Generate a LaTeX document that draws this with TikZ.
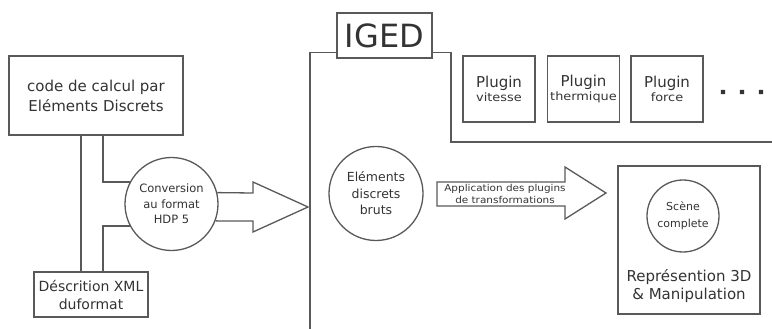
\documentclass[tikz,border=0pt]{standalone}
\usepackage{fontspec}
\setmainfont{DejaVu Sans}
\usepackage{xcolor}
\colorlet{mygray}{black!65}
\colorlet{mytext}{black!80}
\usepackage{tikz}
\usetikzlibrary{calc}

\begin{document}
\begin{tikzpicture}[x=1pt,y=-1pt,line width=1.3pt,draw=mygray,
    every node/.style={text=mytext,align=center,inner sep=0pt},
    boite/.style={draw=mygray,rectangle},
    bulle/.style={draw=mygray,circle}]
  \useasboundingbox (0,0) rectangle (772,329);
  % entree : code et description
  \node[boite,minimum width=174pt,minimum height=79pt,font=\fontsize{15}{20}\selectfont] (code) at (96,95.5) {code de calcul par\\Eléments Discrets};
  \node[boite,minimum width=114pt,minimum height=45pt,font=\fontsize{14}{18}\selectfont] (xml) at (91,294.5) {Déscrition XML\\duformat};
  \node[bulle,minimum size=93pt,font=\fontsize{11.5}{15.5}\selectfont] (conv) at (171.5,204) {Conversion\\au format\\HDP 5};
  \draw (code.south -| 81,0) -- (xml.north -| 81,0);
  \draw ([xshift=7pt]code.south) |- (conv.152);
  \draw ([xshift=12pt]xml.north) |- (conv.208);
  \coordinate (mur) at (308,207);
  \draw[line join=miter] (conv.14) -- (253,193) -- (253,182) -- (mur) -- (253,232) -- (253,221) -- (conv.-21);
  % IGED
  \node[boite,minimum width=95pt,minimum height=45pt,font=\fontsize{32}{36}\selectfont] (iged) at (384.5,35.5) {IGED};
  \coordinate (coin) at (451,142);
  \draw (310,329) |- ([yshift=6pt]iged.south west);
  \draw ([yshift=6pt]iged.south east) -| (coin) -- (772,142);
  \foreach \nom/\x/\sous in {p1/499/vitesse,p2/583.5/thermique,p3/667/force}{
    \node[boite,minimum width=72pt,minimum height=66pt] (\nom) at (\x,89) {{\fontsize{15}{17}\selectfont Plugin}\\[2pt]{\fontsize{11.5}{13}\selectfont\scalebox{1.12}[1]{\sous}}};
  }
  \fill[mytext] foreach \x in {723,742,761}{(\x,92) +(-2.2,-2.2) rectangle +(2.2,2.2)};
  \node[bulle,minimum size=94pt,font=\fontsize{12.5}{16.5}\selectfont] (edb) at (376,193.5) {Eléments\\discrets\\bruts};
  \draw[line join=miter] (437,182) -- (565,182) -- (565,167) -- (606,193) -- (565,219) -- (565,206) -- (437,206) -- cycle;
  \node[font=\fontsize{9.5}{12}\selectfont] (app) at (505,194) {\scalebox{1.1}[1]{Application des plugins}\\\scalebox{1.1}[1]{de transformations}};
  \node[boite,line width=1.8pt,minimum width=142pt,minimum height=148pt] (rep) at (689,240) {};
  \node[bulle,minimum size=72pt,font=\fontsize{11}{17}\selectfont] (scene) at (683,216) {Scène\\complete};
  \node[font=\fontsize{15}{18}\selectfont] (reptxt) at (689,286) {Représention 3D\\\& Manipulation};
\end{tikzpicture}
\end{document}
